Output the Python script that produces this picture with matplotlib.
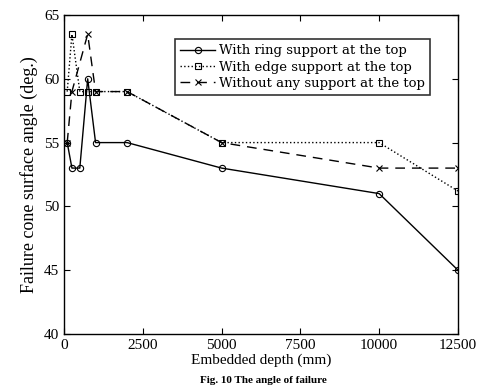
import matplotlib
matplotlib.use("Agg")
import matplotlib.pyplot as plt

plt.rcParams["font.family"] = ["Liberation Serif", "DejaVu Serif"]

# embedded depth (mm) and failure cone angle (deg.)
ring_x = [100, 250, 500, 750, 1000, 2000, 5000, 10000, 12500]
ring_y = [55, 53, 53, 60, 55, 55, 53, 51, 45]

edge_x = [100, 250, 500, 750, 1000, 2000, 5000, 10000, 12500]
edge_y = [59, 63.5, 59, 59, 59, 59, 55, 55, 51.2]

free_x = [100, 250, 750, 1000, 2000, 5000, 10000, 12500]
free_y = [55, 59, 63.5, 59, 59, 55, 53, 53]

labels = ["With ring support at the top",
          "With edge support at the top",
          "Without any support at the top"]

fig = plt.figure(figsize=(4.78, 3.86), dpi=100)
ax = fig.add_axes([0.134, 0.135, 0.824, 0.826])

ax.plot(ring_x, ring_y, color="black", lw=1.0, ls="-", marker="o",
        ms=4.5, mfc="none", mew=0.8, label=labels[0])
ax.plot(edge_x, edge_y, color="black", lw=1.0, ls=":", marker="s",
        ms=4.5, mfc="none", mew=0.8, label=labels[1])
ax.plot(free_x, free_y, color="black", lw=1.0, ls=(0, (7, 5)), marker="x",
        ms=4.5, mew=0.8, label=labels[2])

ax.set_xlim(0, 12500)
ax.set_ylim(40, 65)
ax.set_xticks([0, 2500, 5000, 7500, 10000, 12500])
ax.set_yticks([40, 45, 50, 55, 60, 65])
ax.tick_params(direction="in", length=4, labelsize=11, top=True, right=True)
for s in ax.spines.values():
    s.set_linewidth(1.0)

ax.set_xlabel("Embedded depth (mm)", fontsize=11, labelpad=1)
ax.set_ylabel("Failure cone surface angle (deg.)", fontsize=13, labelpad=4)

leg = ax.legend(loc="upper left", bbox_to_anchor=(0.282, 0.925),
                prop={"family": "DejaVu Serif", "size": 9.5},
                handlelength=2.6, handletextpad=0.3, frameon=True,
                fancybox=False, edgecolor="black", borderpad=0.4,
                labelspacing=0.25, borderaxespad=0)
leg.get_frame().set_linewidth(1.2)

fig.text(0.55, 0.002, "Fig. 10 The angle of failure", fontsize=8,
         fontweight="bold", ha="center", va="bottom")

fig.savefig("out.png", dpi=100)
